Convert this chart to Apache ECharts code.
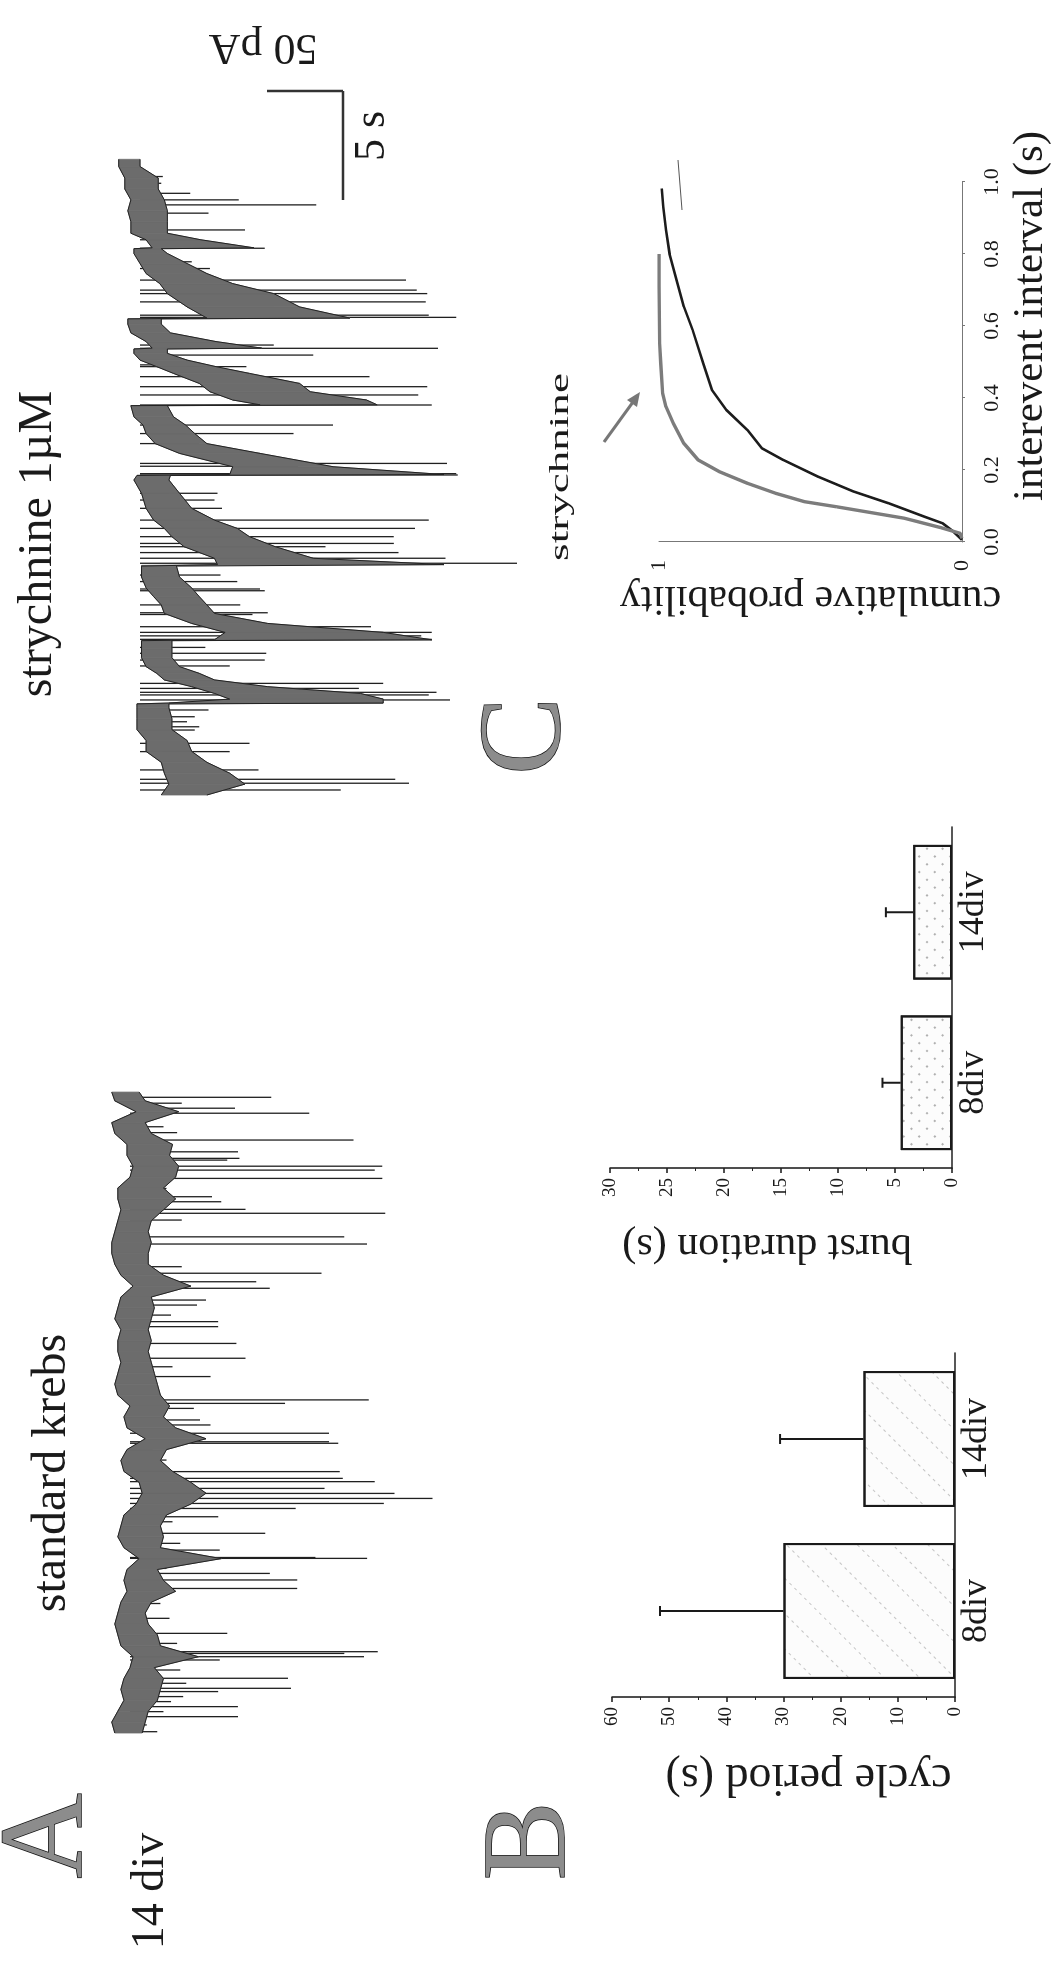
<!DOCTYPE html>
<html>
<head>
<meta charset="utf-8">
<title>14 div - standard krebs / strychnine</title>
<script src="https://cdn.jsdelivr.net/npm/echarts@6.0.0/dist/echarts.min.js"></script>
<style>
html, body { margin: 0; padding: 0; width: 1055px; height: 1961px; overflow: hidden; background: #fff; }
/* the figure is laid out landscape and turned a quarter turn, like the scan */
#fig { position: absolute; left: 0; top: 0; width: 1961px; height: 1055px;
       transform-origin: 0 0; transform: translateY(1961px) rotate(-90deg); }
</style>
</head>
<body>
<div id="fig"></div>
<script>
var SERIF = 'Liberation Serif, serif';
var INK = '#1a1a1a';

// ---- A: trace in standard krebs (time s, current pA) ----
var aT  = [0,0.5,1,1.5,2,2.5,3,3.5,4,4.5,5,5.5,6,6.5,7,7.5,8,8.5,9,9.5,10,10.5,11,11.5,12,12.5,13,13.5,14,14.5,
           15,15.5,16,16.5,17,17.5,18,18.5,19,19.5,20,20.5,21,21.5,22,22.5,23,23.5,24,24.5,25,25.5,26,26.5,27,27.5,28,28.5,29,29.4];
var aUp = [10,12,8,4,6,4,0,-2,6,8,10,8,6,2,4,2,-6,4,8,6,4,-4,-8,-6,4,6,2,-10,2,4,
           0,8,10,8,6,8,8,6,10,8,6,-2,6,10,12,12,10,8,6,8,8,0,-2,2,2,10,12,-4,10,12];
var aLo = [-8,-10,-12,-18,-20,-22,-16,-45,-20,-18,-12,-10,-14,-30,-22,-18,-60,-20,-22,-20,-24,-40,-50,-40,-28,-20,-24,-50,-30,-22,
           -26,-20,-18,-16,-14,-12,-14,-12,-14,-16,-14,-40,-22,-12,-12,-14,-12,-14,-22,-30,-22,-30,-32,-26,-28,-14,-10,-32,-10,-6];
var aSpikes = [[0.06,-18],[0.37,-11],[0.75,-71],[0.98,-22],[1.21,-71],[1.44,-27],[1.67,-35],[1.90,-58],[2.05,-106],[2.28,-37],
  [2.51,-104],[2.89,-33],[3.35,-59],[3.50,-154],[3.65,-141],[3.73,-163],[4.11,-31],[4.57,-64],[5.26,-26],[5.94,-20],
  [6.63,-110],[7.02,-110],[7.32,-92],[7.55,-24],[8.01,-156],[8.05,-122],[8.39,-59],[8.70,-33],[9.16,-89],[9.69,-28],
  [9.92,-58],[10.30,-109],[10.53,-167],[10.76,-199],[10.99,-174],[11.22,-128],[11.53,-161],[11.68,-140],[11.99,-138],[12.52,-24],
  [12.98,-15],[13.29,-137],[13.36,-131],[13.75,-131],[14.13,-53],[14.36,-46],[14.89,-42],[15.12,-102],[15.28,-157],[16.35,-53],
  [16.80,-28],[17.19,-76],[17.87,-70],[18.64,-58],[18.87,-58],[19.17,-27],[19.63,-44],[19.86,-50],[20.40,-92],[20.70,-83],
  [21.09,-126],[21.39,-34],[22.43,-156],[22.76,-141],[23.53,-34],[23.84,-168],[24.02,-76],[24.37,-60],[24.60,-54],[24.98,-24],
  [25.44,-166],[25.82,-161],[26.00,-166],[26.28,-64],[26.36,-72],[26.66,-71],[27.20,-147],[27.54,-31],[27.81,-22],[28.43,-118],
  [28.66,-69],[28.89,-34],[29.16,-93]];

// ---- A: trace in strychnine 1 uM ----
var bT  = [0,0.5,1,1.5,2,2.5,3,3.5,4,4.18,4.22,4.4,4.66,4.97,5.28,5.58,5.89,6.3,6.7,7.08,7.12,7.46,7.87,8.33,8.72,9.1,9.5,10,10.5,10.53,
           10.57,10.86,11.39,11.85,12.23,12.61,13.15,13.84,14.45,14.66,14.70,15.06,15.67,16.12,16.58,16.97,17.35,17.86,17.90,18.12,
           18.5,18.88,19.34,19.65,19.95,20.26,20.46,20.50,20.8,21.2,21.6,21.84,21.88,22.39,23.0,23.46,23.92,24.38,24.84,25.06,
           25.10,25.47,25.77,26.3,26.8,27.3,27.8,28.3,28.83,29.16];
var bUp = [-14,-19,-16,-14,-4,-4,2,2,2,2,-19,-59,-49,-34,-16,-11,-4,-1,-1,-1,-49,-56,-34,-16,-14,-9,-4,-1,-1,-1,
           -51,-49,-29,-21,-16,-9,-4,-1,4,2,-59,-61,-26,-10,-4,-2,4,6,-79,-61,
           -46,-39,-22,-11,0,4,4,-8,-4,6,8,8,-44,-31,-18,-13,-4,0,4,4,
           -8,-4,6,6,8,6,10,10,14,14];
var bLo = [-44,-69,-59,-44,-34,-31,-21,-21,-19,-19,-160,-160,-145,-84,-49,-39,-26,-21,-21,-21,-192,-160,-84,-49,-44,-39,-34,-26,-24,-24,
           -200,-114,-89,-72,-64,-49,-34,-26,-19,-20,-200,-127,-79,-44,-36,-30,-22,-18,-156,-149,
           -112,-105,-72,-50,-31,-18,-18,-80,-50,-20,-14,-14,-138,-105,-88,-61,-44,-31,-18,-14,
           -75,-40,-18,-18,-18,-16,-12,-12,0,0];
var bSpikes = [[0.23,-132],[0.54,-177],[0.72,-168],[1.15,-78],[1.99,-59],[2.37,-72],[2.98,-36],[3.13,-39],[3.36,-31],[3.59,-36],
  [3.90,-45],[4.36,-204],[4.59,-190],[4.71,-195],[4.89,-144],[5.12,-160],[5.92,-59],[6.19,-82],[6.50,-83],[6.77,-43],
  [7.14,-192],[7.30,-185],[7.46,-192],[7.72,-152],[8.28,-74],[8.36,-84],[8.72,-66],[9.37,-82],[9.45,-79],[9.79,-64],
  [10.09,-53],[10.63,-248],[10.86,-201],[11.12,-170],[11.39,-122],[11.54,-167],[11.85,-167],[12.23,-181],[12.61,-190],[13.15,-54],
  [13.53,-49],[13.84,-51],[14.68,-209],[14.74,-208],[15.08,-104],[15.21,-202],[16.12,-39],[16.58,-101],[16.97,-127],[17.89,-192],
  [18.35,-183],[18.73,-189],[19.19,-151],[19.65,-70],[19.73,-31],[20.18,-114],[20.49,-196],[20.64,-88],[21.91,-208],[22.01,-190],
  [22.62,-188],[23.00,-189],[23.16,-182],[23.62,-175],[24.15,-46],[24.46,-34],[25.08,-82],[25.47,-39],[25.92,-69],[26.69,-45],
  [27.07,-116],[27.30,-65],[27.60,-33],[28.06,-14],[28.37,-15]];

// ---- B: bar charts ----
var groups = ['8div', '14div'];
var cycleMean = [30, 16];
var cycleErr  = [21.6, 14.6];
var burstMean = [4.5, 3.4];
var burstErr  = [1.6, 2.4];

// ---- C: cumulative probability of interevent interval ----
var cumStrych = [[0.01,0],[0.024,0.006],[0.04,0.07],[0.066,0.19],[0.098,0.415],[0.112,0.52],[0.135,0.614],[0.163,0.708],[0.195,0.80],
  [0.228,0.871],[0.274,0.918],[0.33,0.953],[0.376,0.977],[0.413,0.988],[0.496,0.994],[0.552,0.998],[0.71,1.0],[0.80,1.0]];
var cumControl = [[0.006,0],[0.03,0.03],[0.052,0.064],[0.07,0.123],[0.107,0.24],[0.14,0.357],[0.181,0.474],[0.228,0.59],[0.26,0.66],
  [0.311,0.708],[0.367,0.778],[0.422,0.825],[0.496,0.854],[0.589,0.889],[0.654,0.918],[0.728,0.942],[0.80,0.965],[0.867,0.977],
  [0.931,0.986],[0.982,0.991]];

var myChart = echarts.init(document.getElementById('fig'));

// gray band of the trace, one quad per sample step
function bandItem(tArr, upArr, loArr) {
	return function (params, api) {
		var i = params.dataIndex;
		if (i >= tArr.length - 1) return null;
		var p1 = api.coord([tArr[i], upArr[i]]);
		var p2 = api.coord([tArr[i + 1], upArr[i + 1]]);
		var p3 = api.coord([tArr[i + 1], loArr[i + 1]]);
		var p4 = api.coord([tArr[i], loArr[i]]);
		return {
			type: 'polygon',
			shape: { points: [p1, p2, p3, p4] },
			style: { fill: '#6c6c6c', stroke: '#6c6c6c', lineWidth: 0.8 }
		};
	};
}
function spikeItem(params, api) {
	var p0 = api.coord([api.value(0), 0]);
	var p1 = api.coord([api.value(0), api.value(1)]);
	return {
		type: 'line',
		shape: { x1: p0[0], y1: p0[1], x2: p1[0], y2: p1[1] },
		style: { stroke: '#202020', lineWidth: 1.3 }
	};
}
function errItem(params, api) {
	var base = api.coord([api.value(0), api.value(1)]);
	var top = api.coord([api.value(0), api.value(1) + api.value(2)]);
	return {
		type: 'group',
		children: [
			{ type: 'line', shape: { x1: base[0], y1: base[1], x2: top[0], y2: top[1] }, style: { stroke: INK, lineWidth: 2 } },
			{ type: 'line', shape: { x1: top[0] - 5, y1: top[1], x2: top[0] + 5, y2: top[1] }, style: { stroke: INK, lineWidth: 2 } }
		]
	};
}
function traceEdges(tArr, arr, idx) {
	return {
		type: 'line', xAxisIndex: idx, yAxisIndex: idx, z: 4,
		data: tArr.map(function (t, i) { return [t, arr[i]]; }),
		symbol: 'none', silent: true,
		lineStyle: { color: '#222', width: 1 }
	};
}

var axisLineStyle = { color: '#222', width: 1.6 };
var tickLabel = { fontFamily: SERIF, fontSize: 19, color: INK };

option = {
	animation: false,
	backgroundColor: '#fff',
	textStyle: { fontFamily: SERIF },
	grid: [
		{ left: 228, top: 69.2, width: 654, height: 456, outerBoundsMode: 'none' },
		{ left: 1166, top: 79.2, width: 654, height: 456, outerBoundsMode: 'none' },
		{ left: 264, top: 612, width: 344, height: 343, outerBoundsMode: 'none' },
		{ left: 793, top: 610, width: 341, height: 342, outerBoundsMode: 'none' },
		{ left: 1419, top: 659, width: 360, height: 303, outerBoundsMode: 'none' }
	],
	xAxis: [
		{ gridIndex: 0, type: 'value', min: 0, max: 30, show: false },
		{ gridIndex: 1, type: 'value', min: 0, max: 30, show: false },
		{ gridIndex: 2, type: 'category', data: groups,
		  axisLine: { lineStyle: axisLineStyle }, axisTick: { length: 5, lineStyle: axisLineStyle },
		  axisLabel: { fontFamily: SERIF, fontSize: 36, color: INK, margin: 4 } },
		{ gridIndex: 3, type: 'category', data: groups,
		  axisLine: { lineStyle: axisLineStyle }, axisTick: { length: 5, lineStyle: axisLineStyle },
		  axisLabel: { fontFamily: SERIF, fontSize: 36, color: INK, margin: 4 } },
		{ gridIndex: 4, type: 'value', min: 0, max: 1, interval: 0.2,
		  axisLine: { lineStyle: { color: '#777', width: 1 } },
		  axisTick: { length: 3, lineStyle: { color: '#777' } },
		  splitLine: { show: false },
		  axisLabel: { fontFamily: SERIF, fontSize: 22, color: INK, margin: 19,
		               formatter: function (v) { return v.toFixed(1); } } }
	],
	yAxis: [
		{ gridIndex: 0, type: 'value', min: -260, max: 40, show: false },
		{ gridIndex: 1, type: 'value', min: -260, max: 40, show: false },
		{ gridIndex: 2, type: 'value', min: 0, max: 60, interval: 10,
		  name: 'cycle period (s)', nameLocation: 'middle', nameGap: 57,
		  nameTextStyle: { fontFamily: SERIF, fontSize: 46, color: INK, padding: [0, 50, 0, 0] },
		  axisLine: { show: true, lineStyle: axisLineStyle },
		  axisTick: { show: true, length: 5, lineStyle: axisLineStyle },
		  minorTick: { show: true, splitNumber: 2, length: 3, lineStyle: { color: '#222' } },
		  splitLine: { show: false }, axisLabel: Object.assign({ margin: 10 }, tickLabel) },
		{ gridIndex: 3, type: 'value', min: 0, max: 30, interval: 5,
		  name: 'burst duration (s)', nameLocation: 'middle', nameGap: 57,
		  nameTextStyle: { fontFamily: SERIF, fontSize: 42, color: INK, padding: [0, 0, 0, 28] },
		  axisLine: { show: true, lineStyle: axisLineStyle },
		  axisTick: { show: true, length: 5, lineStyle: axisLineStyle },
		  minorTick: { show: true, splitNumber: 2, length: 3, lineStyle: { color: '#222' } },
		  splitLine: { show: false }, axisLabel: Object.assign({ margin: 10 }, tickLabel) },
		{ gridIndex: 4, type: 'value', min: 0, max: 1, interval: 1,
		  name: 'cumulative probability', nameLocation: 'middle', nameGap: 35,
		  nameTextStyle: { fontFamily: SERIF, fontSize: 42, color: INK },
		  axisLine: { show: true, lineStyle: { color: '#777', width: 1 } },
		  axisTick: { show: false }, splitLine: { show: false },
		  axisLabel: { fontFamily: SERIF, fontSize: 22, color: INK, margin: 18 } }
	],
	series: [
		// trace A
		{ type: 'custom', xAxisIndex: 0, yAxisIndex: 0, z: 2, renderItem: spikeItem, data: aSpikes, silent: true },
		{ type: 'custom', xAxisIndex: 0, yAxisIndex: 0, z: 3, renderItem: bandItem(aT, aUp, aLo),
		  data: aT.map(function (t, i) { return [t, aUp[i], aLo[i]]; }), silent: true },
		traceEdges(aT, aUp, 0),
		traceEdges(aT, aLo, 0),
		// trace strychnine
		{ type: 'custom', xAxisIndex: 1, yAxisIndex: 1, z: 2, renderItem: spikeItem, data: bSpikes, silent: true },
		{ type: 'custom', xAxisIndex: 1, yAxisIndex: 1, z: 3, renderItem: bandItem(bT, bUp, bLo),
		  data: bT.map(function (t, i) { return [t, bUp[i], bLo[i]]; }), silent: true },
		traceEdges(bT, bUp, 1),
		traceEdges(bT, bLo, 1),
		// cycle period
		{ type: 'bar', xAxisIndex: 2, yAxisIndex: 2, barWidth: '79%', data: cycleMean,
		  itemStyle: { color: '#fcfcfc', borderColor: INK, borderWidth: 2,
		    decal: { symbol: 'rect', symbolSize: 1, color: 'rgba(0,0,0,0.22)',
		             dashArrayX: [3, 4], dashArrayY: [1, 24], rotation: -Math.PI / 4 } } },
		{ type: 'custom', xAxisIndex: 2, yAxisIndex: 2, z: 5, renderItem: errItem,
		  data: cycleMean.map(function (m, i) { return [i, m, cycleErr[i]]; }) },
		// burst duration
		{ type: 'bar', xAxisIndex: 3, yAxisIndex: 3, barWidth: '79%', data: burstMean,
		  itemStyle: { color: '#fcfcfc', borderColor: INK, borderWidth: 2,
		    decal: { symbol: 'rect', symbolSize: 1, color: 'rgba(0,0,0,0.3)',
		             dashArrayX: [2, 9], dashArrayY: [2, 9], rotation: Math.PI / 4 } } },
		{ type: 'custom', xAxisIndex: 3, yAxisIndex: 3, z: 5, renderItem: errItem,
		  data: burstMean.map(function (m, i) { return [i, m, burstErr[i]]; }) },
		// cumulative curves
		{ name: 'control', type: 'line', xAxisIndex: 4, yAxisIndex: 4, data: cumControl, symbol: 'none',
		  lineStyle: { color: '#1c1c1c', width: 2.6 } },
		{ name: 'strychnine', type: 'line', xAxisIndex: 4, yAxisIndex: 4, data: cumStrych, symbol: 'none',
		  lineStyle: { color: '#7c7c7c', width: 3.4 } }
	],
	graphic: [
		{ type: 'text', x: 125, y: 50, style: { text: 'A', fontFamily: SERIF, fontSize: 118, fill: '#8c8c8c', stroke: '#111', lineWidth: 1.5, align: 'center', verticalAlign: 'middle' } },
		{ type: 'text', x: 70, y: 151, style: { text: '14 div', fontFamily: SERIF, fontSize: 46, fill: INK, align: 'center', verticalAlign: 'middle' } },
		{ type: 'text', x: 120, y: 533, style: { text: 'B', fontFamily: SERIF, fontSize: 118, fill: '#8c8c8c', stroke: '#111', lineWidth: 1.5, align: 'center', verticalAlign: 'middle' } },
		{ type: 'text', x: 1225, y: 529, style: { text: 'C', fontFamily: SERIF, fontSize: 116, fill: '#8c8c8c', stroke: '#111', lineWidth: 1.5, align: 'center', verticalAlign: 'middle' } },
		{ type: 'text', x: 488, y: 52, style: { text: 'standard krebs', fontFamily: SERIF, fontSize: 48, fill: INK, align: 'center', verticalAlign: 'middle' } },
		{ type: 'text', x: 1417, y: 38, style: { text: 'strychnine 1\u00b5M', fontFamily: SERIF, fontSize: 48, fill: INK, align: 'center', verticalAlign: 'middle' } },
		{ type: 'text', x: 1494, y: 561, scaleX: 1.67, style: { text: 'strychnine', fontFamily: SERIF, fontSize: 27, fill: INK, align: 'center', verticalAlign: 'middle' } },
		{ type: 'text', x: 1645, y: 1031, style: { text: 'interevent interval (s)', fontFamily: SERIF, fontSize: 43, fill: INK, align: 'center', verticalAlign: 'middle' } },
		// scale bar
		{ type: 'line', shape: { x1: 1761, y1: 343, x2: 1870, y2: 343 }, style: { stroke: '#333', lineWidth: 2.5 } },
		{ type: 'line', shape: { x1: 1870, y1: 267, x2: 1870, y2: 343 }, style: { stroke: '#333', lineWidth: 2.5 } },
		{ type: 'text', x: 1825, y: 372, style: { text: '5 s', fontFamily: SERIF, fontSize: 44, fill: INK, align: 'center', verticalAlign: 'middle' } },
		{ type: 'text', x: 1914, y: 263, rotation: Math.PI / 2, style: { text: '50 pA', fontFamily: SERIF, fontSize: 44, fill: INK, align: 'center', verticalAlign: 'middle' } },
		// arrow to the strychnine curve
		{ type: 'line', shape: { x1: 1519, y1: 604, x2: 1559, y2: 633 }, style: { stroke: '#777', lineWidth: 3 } },
		{ type: 'polygon', shape: { points: [[1569, 640], [1554, 637], [1561, 627]] }, style: { fill: '#777' } },
		{ type: 'line', shape: { x1: 1751, y1: 682, x2: 1801, y2: 678 }, style: { stroke: '#555', lineWidth: 1 } }
	]
};
myChart.setOption(option);
</script>
</body>
</html>
